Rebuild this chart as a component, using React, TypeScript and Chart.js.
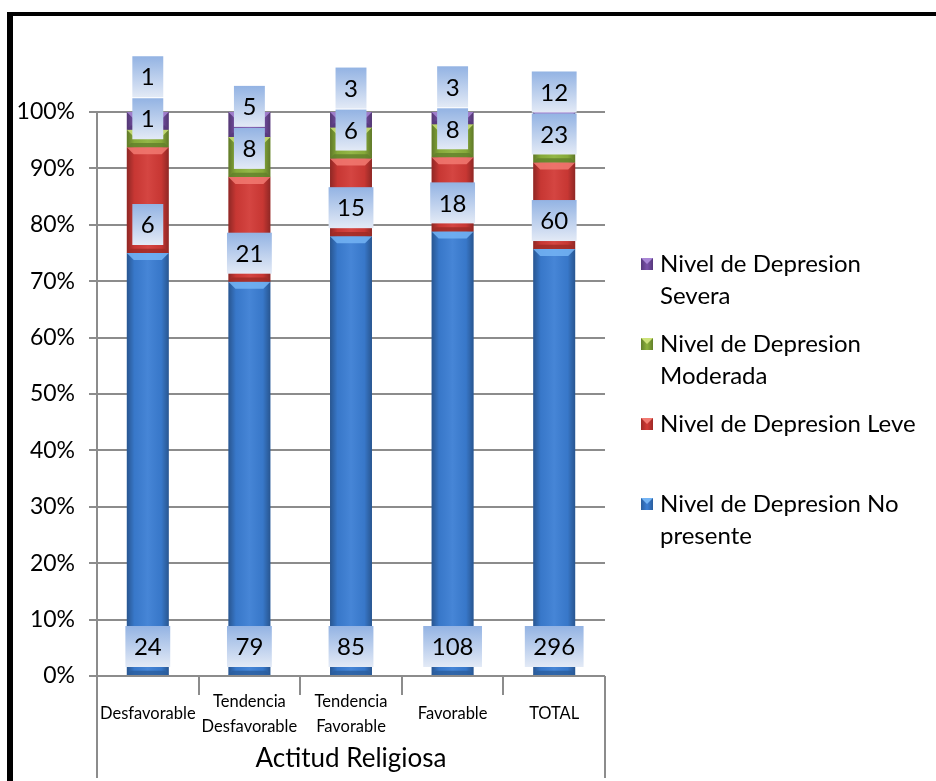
import React, { useEffect, useRef } from "react";
import { Chart, registerables } from "chart.js";

Chart.register(...registerables);

const categories = ["Desfavorable", "Tendencia Desfavorable", "Tendencia Favorable", "Favorable", "TOTAL"];
const categoryLines = [["Desfavorable"], ["Tendencia", "Desfavorable"], ["Tendencia", "Favorable"], ["Favorable"], ["TOTAL"]];
const seriesNames = [
  "Nivel de Depresion No presente",
  "Nivel de Depresion Leve",
  "Nivel de Depresion Moderada",
  "Nivel de Depresion Severa",
];
const noPresente = [24, 79, 85, 108, 296];
const leve = [6, 21, 15, 18, 60];
const moderada = [1, 8, 6, 8, 23];
const severa = [1, 5, 3, 3, 12];
const axisTitle = "Actitud Religiosa";
const yTickStep = 10;

const seriesCounts = [noPresente, leve, moderada, severa];
const seriesColors = ["#3b7ed4", "#d23a36", "#8db23c", "#7a52aa"];
const seriesLight = ["#74b4f4", "#f27a72", "#cde27a", "#a987d6"];
const seriesDark = ["#2a5e9e", "#9e2a26", "#62802a", "#56387c"];

const FONT = "Lato, 'Noto Sans', sans-serif";

const totals = categories.map((_, i) => seriesCounts.reduce((a, s) => a + s[i], 0));
const pct = (arr: number[]) => arr.map((v, i) => (v / totals[i]) * 100);

function wrapText(ctx: CanvasRenderingContext2D, text: string, maxW: number): string[] {
  const words = text.split(" ");
  const lines: string[] = [];
  let cur = "";
  for (const w of words) {
    const t = cur ? cur + " " + w : w;
    if (ctx.measureText(t).width > maxW && cur) {
      lines.push(cur);
      cur = w;
    } else cur = t;
  }
  if (cur) lines.push(cur);
  return lines;
}

const decor = {
  id: "decor",
  afterDatasetsDraw(chart: any) {
    const ctx: CanvasRenderingContext2D = chart.ctx;
    chart.data.datasets.forEach((ds: any, di: number) => {
      const meta = chart.getDatasetMeta(di);
      meta.data.forEach((el: any) => {
        const w = el.width;
        const left = el.x - w / 2;
        const right = el.x + w / 2;
        const top = Math.min(el.y, el.base);
        const bottom = Math.max(el.y, el.base);
        const h = bottom - top;
        if (h <= 0) return;
        ctx.save();
        const g = ctx.createLinearGradient(left, 0, right, 0);
        g.addColorStop(0, "rgba(0,0,0,0.32)");
        g.addColorStop(0.18, "rgba(0,0,0,0.05)");
        g.addColorStop(0.5, "rgba(255,255,255,0.06)");
        g.addColorStop(0.82, "rgba(0,0,0,0.05)");
        g.addColorStop(1, "rgba(0,0,0,0.32)");
        ctx.fillStyle = g;
        ctx.fillRect(left, top, w, h);
        const b = Math.min(7, h / 2);
        ctx.fillStyle = seriesLight[di];
        ctx.globalAlpha = 0.85;
        ctx.beginPath();
        ctx.moveTo(left, top);
        ctx.lineTo(right, top);
        ctx.lineTo(right - b, top + b);
        ctx.lineTo(left + b, top + b);
        ctx.closePath();
        ctx.fill();
        ctx.fillStyle = seriesDark[di];
        ctx.globalAlpha = 0.8;
        ctx.beginPath();
        ctx.moveTo(left, bottom);
        ctx.lineTo(right, bottom);
        ctx.lineTo(right - b * 0.6, bottom - b * 0.6);
        ctx.lineTo(left + b * 0.6, bottom - b * 0.6);
        ctx.closePath();
        ctx.fill();
        ctx.restore();
      });
    });
  },
  afterDraw(chart: any) {
    const ctx: CanvasRenderingContext2D = chart.ctx;
    const ca = chart.chartArea;
    const xs = chart.scales.x;
    ctx.save();

    // x axis: separators, outer lines, labels, title
    ctx.strokeStyle = "#8c8c8c";
    ctx.lineWidth = 2;
    const n = categories.length;
    const step = (ca.right - ca.left) / n;
    for (let k = 1; k < n; k++) {
      const x = Math.round(ca.left + k * step);
      ctx.beginPath();
      ctx.moveTo(x, ca.bottom);
      ctx.lineTo(x, ca.bottom + 19);
      ctx.stroke();
    }
    [ca.left, ca.right].forEach((x: number) => {
      ctx.beginPath();
      ctx.moveTo(x, ca.bottom);
      ctx.lineTo(x, ca.bottom + 102);
      ctx.stroke();
    });
    ctx.fillStyle = "#000";
    ctx.textAlign = "center";
    ctx.textBaseline = "middle";
    ctx.font = `16.5px ${FONT}`;
    categoryLines.forEach((lines, i) => {
      const cx = xs.getPixelForValue(i);
      const lh = 25;
      const y0 = ca.bottom + 38 - ((lines.length - 1) * lh) / 2;
      lines.forEach((t, j) => ctx.fillText(t, cx, y0 + j * lh));
    });
    ctx.font = `26px ${FONT}`;
    ctx.fillText(axisTitle, (ca.left + ca.right) / 2, ca.bottom + 83);

    // data labels
    ctx.font = `24px ${FONT}`;
    const boxH = 41;
    categories.forEach((_, i) => {
      let prevTop = 0;
      seriesCounts.forEach((arr, s) => {
        const el = chart.getDatasetMeta(s).data[i];
        const boxBottom = s < 3 ? el.base - 8 : prevTop - 1;
        const boxTop = boxBottom - boxH;
        prevTop = boxTop;
        const txt = String(arr[i]);
        const bw = ctx.measureText(txt).width + 17;
        const g = ctx.createLinearGradient(0, boxTop, 0, boxBottom);
        g.addColorStop(0, "#93b3e3");
        g.addColorStop(1, "#e3eaf6");
        ctx.fillStyle = g;
        ctx.fillRect(el.x - bw / 2, boxTop, bw, boxH);
        ctx.fillStyle = "#000";
        ctx.fillText(txt, el.x, boxTop + boxH / 2 + 1);
      });
    });

    // legend
    ctx.textAlign = "left";
    ctx.font = `24px ${FONT}`;
    const lx = ca.right + 36;
    let ly = 264;
    for (let s = seriesNames.length - 1; s >= 0; s--) {
      const g = ctx.createLinearGradient(lx, 0, lx + 12, 0);
      g.addColorStop(0, seriesDark[s]);
      g.addColorStop(0.5, seriesColors[s]);
      g.addColorStop(1, seriesDark[s]);
      ctx.fillStyle = g;
      ctx.fillRect(lx, ly - 6, 12, 12);
      ctx.fillStyle = seriesLight[s];
      ctx.beginPath();
      ctx.moveTo(lx, ly - 6);
      ctx.lineTo(lx + 12, ly - 6);
      ctx.lineTo(lx + 6, ly);
      ctx.closePath();
      ctx.fill();
      ctx.fillStyle = "#000";
      const lines = wrapText(ctx, seriesNames[s], 266);
      lines.forEach((t, j) => ctx.fillText(t, lx + 19, ly + j * 32.5));
      ly += 80;
    }

    // outer frame
    ctx.fillStyle = "#000";
    ctx.fillRect(7, 12, 6, chart.height - 12);
    ctx.fillRect(7, 12, chart.width - 7, 4);
    ctx.restore();
  },
};

export default function App() {
  const ref = useRef<HTMLCanvasElement>(null);
  useEffect(() => {
    if (!ref.current) return;
    const chart = new Chart(ref.current, {
      type: "bar",
      data: {
        labels: categories,
        datasets: seriesNames.map((name, s) => ({
          label: name,
          data: pct(seriesCounts[s]),
          backgroundColor: seriesColors[s],
          borderWidth: 0,
          barPercentage: 0.413,
          categoryPercentage: 1,
        })),
      },
      options: {
        responsive: false,
        animation: false,
        layout: { padding: { left: 14, top: 112, right: 331, bottom: 0 } },
        plugins: { legend: { display: false }, tooltip: { enabled: false } },
        scales: {
          x: {
            stacked: true,
            ticks: { display: false },
            grid: { display: false },
            border: { display: false },
            afterFit: (s: any) => {
              s.height = 105;
            },
          },
          y: {
            stacked: true,
            min: 0,
            max: 100,
            ticks: {
              stepSize: yTickStep,
              callback: (v: any) => v + "%",
              font: { size: 23, family: FONT },
              color: "#000",
              padding: 14,
            },
            grid: { color: "#8c8c8c", lineWidth: 2, tickLength: 8, drawTicks: true },
            border: { display: true, color: "#8c8c8c", width: 2 },
            afterFit: (s: any) => {
              s.width = 83;
            },
          },
        },
      },
      plugins: [decor],
    });
    return () => chart.destroy();
  }, []);
  return (
    <div style={{ position: "absolute", left: 0, top: 0, width: 936, height: 781, background: "#fff" }}>
      <canvas ref={ref} width={936} height={781} style={{ display: "block", width: 936, height: 781 }} />
    </div>
  );
}
